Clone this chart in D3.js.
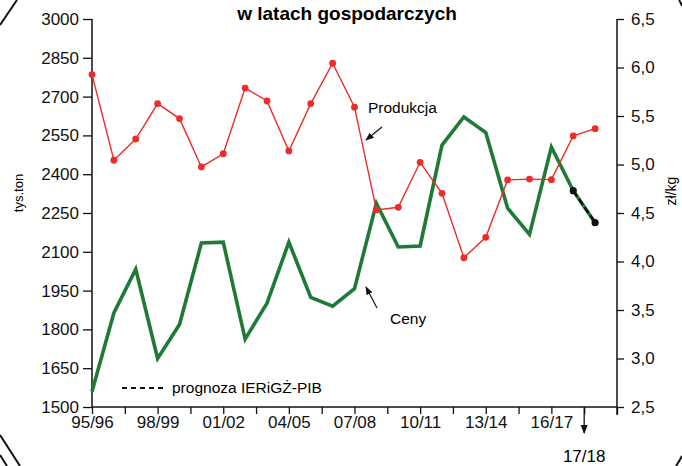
<!DOCTYPE html>
<html>
<head>
<meta charset="utf-8">
<script src="https://cdn.jsdelivr.net/npm/d3@7/dist/d3.min.js"></script>
<style>
    body { margin: 0; background: #fff; }
    svg { display: block; font-family: "Liberation Sans", Arial, sans-serif; }
</style>
</head>
<body>
<div id="viz"></div>
<script>
// seasons 95/96 .. 18/19 (one point per season)
const seasons = ['95/96', '96/97', '97/98', '98/99', '99/00', '00/01', '01/02', '02/03',
    '03/04', '04/05', '05/06', '06/07', '07/08', '08/09', '09/10', '10/11', '11/12',
    '12/13', '13/14', '14/15', '15/16', '16/17', '17/18', '18/19'];
// tys. ton
const production = [2785, 2454, 2536, 2673, 2615, 2428, 2479, 2733, 2683, 2490, 2673, 2829,
    2659, 2262, 2272, 2446, 2326, 2077, 2156, 2378, 2381, 2379, 2548, 2576];
// zł/kg
const prices = [2.66, 3.47, 3.92, 3.00, 3.35, 4.19, 4.20, 3.20, 3.57, 4.20, 3.63, 3.54,
    3.72, 4.60, 4.15, 4.16, 5.20, 5.49, 5.33, 4.55, 4.28, 5.18, 4.73, 4.40];
const forecastFrom = 22;

const xTickLabels = ['95/96', '98/99', '01/02', '04/05', '07/08', '10/11', '13/14', '16/17'];
const leftTicks = [1500, 1650, 1800, 1950, 2100, 2250, 2400, 2550, 2700, 2850, 3000];
const rightTicks = [2.5, 3.0, 3.5, 4.0, 4.5, 5.0, 5.5, 6.0, 6.5];

const W = 682, H = 466;
const margin = { top: 19, right: 65, bottom: 59, left: 92 };
const innerW = W - margin.left - margin.right;
const innerH = H - margin.top - margin.bottom;

const red = '#ee2b2b';
const green = '#1f7a36';

const svg = d3.select('#viz').append('svg')
    .attr('width', W)
    .attr('height', H);

// frame fragments at the corners
const frame = svg.append('g').attr('fill', 'none').attr('stroke', '#111').attr('stroke-width', 2);
frame.append('path').attr('d', 'M0,25 L17,0');
frame.append('path').attr('d', 'M0,435 L20,466');
frame.append('path').attr('d', 'M0,455 L7,466');
frame.append('path').attr('d', 'M679,0 Q681,3 682,6');
frame.append('path').attr('d', 'M676,466 Q680,460 682,456');

const g = svg.append('g')
    .attr('transform', 'translate(' + margin.left + ',' + margin.top + ')');

const x = d3.scaleLinear().domain([0, 24]).range([0, innerW]);
const yLeft = d3.scaleLinear().domain([1500, 3000]).range([innerH, 0]);
const yRight = d3.scaleLinear().domain([2.5, 6.5]).range([innerH, 0]);
const idx = seasons.map((d, i) => i);

// axes
const xAxis = d3.axisBottom(x)
    .tickValues(d3.range(0, 24.01, 1.5))
    .tickSize(7)
    .tickPadding(2)
    .tickFormat(d => (d % 3 === 0 && xTickLabels[d / 3]) ? xTickLabels[d / 3] : '');

const leftAxis = d3.axisLeft(yLeft)
    .tickValues(leftTicks)
    .tickSize(9)
    .tickPadding(4)
    .tickFormat(d3.format('d'));

const rightAxis = d3.axisRight(yRight)
    .tickValues(rightTicks)
    .tickSize(7)
    .tickPadding(7)
    .tickFormat(d => d3.format('.1f')(d).replace('.', ','));

function styleAxis(sel) {
    sel.select('.domain').remove();
    sel.selectAll('line').attr('stroke', '#111').attr('stroke-width', 1.3);
    sel.selectAll('text').attr('fill', '#111').style('font-size', '17px');
}

g.append('g').attr('transform', 'translate(0,' + innerH + ')').call(xAxis).call(styleAxis);
g.append('g').call(leftAxis).call(styleAxis);
g.append('g').attr('transform', 'translate(' + innerW + ',0)').call(rightAxis).call(styleAxis);

// axis lines
g.append('line').attr('x1', 0).attr('x2', innerW).attr('y1', innerH).attr('y2', innerH)
    .attr('stroke', '#111').attr('stroke-width', 1.5);
g.append('line').attr('x1', 0).attr('x2', 0).attr('y1', 0).attr('y2', innerH)
    .attr('stroke', '#111').attr('stroke-width', 1.5);
g.append('line').attr('x1', innerW).attr('x2', innerW).attr('y1', 0).attr('y2', innerH + 8)
    .attr('stroke', '#111').attr('stroke-width', 1.5);

// axis titles
g.append('text')
    .attr('transform', 'translate(' + (-margin.left + 23) + ',' + (innerH / 2 - 20) + ') rotate(-90)')
    .attr('text-anchor', 'middle')
    .style('font-size', '13px')
    .text('tys.ton');
g.append('text')
    .attr('transform', 'translate(' + (innerW + 59) + ',' + (innerH / 2 - 22) + ') rotate(-90)')
    .attr('text-anchor', 'middle')
    .style('font-size', '14px')
    .text('zł/kg');

// title
svg.append('text')
    .attr('x', 347).attr('y', 20)
    .attr('text-anchor', 'middle')
    .style('font-size', '19px')
    .style('font-weight', 'bold')
    .text('w latach gospodarczych');

// arrow marker
svg.append('defs').append('marker')
    .attr('id', 'arr')
    .attr('viewBox', '0 0 10 10')
    .attr('refX', 9).attr('refY', 5)
    .attr('markerWidth', 7).attr('markerHeight', 7)
    .attr('orient', 'auto')
    .append('path').attr('d', 'M0,1 L10,5 L0,9 Z').attr('fill', '#111');

// 17/18 marker under the axis
const fx = x(forecastFrom + 0.5);
g.append('line')
    .attr('x1', fx).attr('x2', fx)
    .attr('y1', innerH).attr('y2', innerH + 26)
    .attr('stroke', '#111').attr('stroke-width', 1.3)
    .attr('marker-end', 'url(#arr)');
g.append('text')
    .attr('x', fx).attr('y', innerH + 55)
    .attr('text-anchor', 'middle')
    .style('font-size', '17px')
    .text('17/18');

// prices (green)
const priceLine = d3.line().x(i => x(i)).y(i => yRight(prices[i]));
g.append('path')
    .datum(idx)
    .attr('fill', 'none')
    .attr('stroke', green)
    .attr('stroke-width', 3.6)
    .attr('stroke-linejoin', 'miter')
    .attr('d', priceLine);
g.append('path')
    .datum(idx.slice(forecastFrom))
    .attr('fill', 'none')
    .attr('stroke', '#111')
    .attr('stroke-width', 2.4)
    .attr('stroke-dasharray', '7,3')
    .attr('d', priceLine);
g.selectAll('.pdot').data(idx.slice(forecastFrom))
    .enter().append('circle')
    .attr('cx', i => x(i))
    .attr('cy', i => yRight(prices[i]))
    .attr('r', 3.6)
    .attr('fill', '#111');

// production (red)
const prodLine = d3.line().x(i => x(i)).y(i => yLeft(production[i]));
g.append('path')
    .datum(idx)
    .attr('fill', 'none')
    .attr('stroke', red)
    .attr('stroke-width', 1.4)
    .attr('d', prodLine);
g.selectAll('.rdot').data(idx)
    .enter().append('circle')
    .attr('cx', i => x(i))
    .attr('cy', i => yLeft(production[i]))
    .attr('r', 3.4)
    .attr('fill', red);

// annotations
svg.append('text').attr('x', 368).attr('y', 113).style('font-size', '15.5px').text('Produkcja');
svg.append('line')
    .attr('x1', 382).attr('y1', 127).attr('x2', 366).attr('y2', 140)
    .attr('stroke', '#111').attr('stroke-width', 1.2)
    .attr('marker-end', 'url(#arr)');
svg.append('text').attr('x', 390).attr('y', 324).style('font-size', '15.5px').text('Ceny');
svg.append('line')
    .attr('x1', 377).attr('y1', 308).attr('x2', 366).attr('y2', 287)
    .attr('stroke', '#111').attr('stroke-width', 1.2)
    .attr('marker-end', 'url(#arr)');

// legend
svg.append('line')
    .attr('x1', 122).attr('x2', 164).attr('y1', 388).attr('y2', 388)
    .attr('stroke', '#111').attr('stroke-width', 2)
    .attr('stroke-dasharray', '5,4');
svg.append('text').attr('x', 172).attr('y', 393).style('font-size', '15.5px').text('prognoza IERiGŻ-PIB');
</script>
</body>
</html>
